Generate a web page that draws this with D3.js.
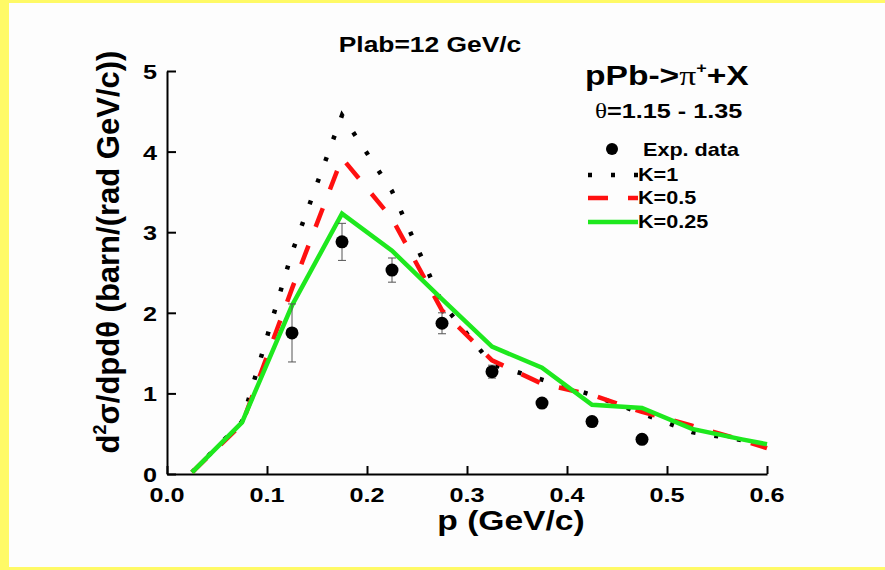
<!DOCTYPE html>
<html>
<head>
<meta charset="utf-8">
<script src="https://cdn.jsdelivr.net/npm/d3@7"></script>
<style>
  html, body { margin: 0; padding: 0; background: #fff; }
  svg { display: block; }
  text { font-family: "Liberation Sans", Arial, sans-serif; font-weight: bold; fill: #000; }
</style>
</head>
<body>
<svg id="chart"></svg>
<script>
// momentum bins of the model curves
const pModel = [0.025, 0.075, 0.125, 0.175, 0.225, 0.275, 0.325, 0.375, 0.425, 0.475, 0.525, 0.575, 0.6];
const k1   = [0.02, 0.65, 2.75, 4.45, 3.51, 2.12, 1.36, 1.17, 0.98, 0.75, 0.52, 0.42, 0.35];
const k05  = [0.02, 0.62, 2.30, 3.92, 3.17, 2.03, 1.41, 1.12, 0.98, 0.77, 0.60, 0.42, 0.32];
const k025 = [0.02, 0.64, 2.09, 3.23, 2.77, 2.17, 1.58, 1.32, 0.86, 0.82, 0.56, 0.43, 0.37];

// experimental points
const pExp   = [0.125, 0.175, 0.225, 0.275, 0.325, 0.375, 0.425, 0.475];
const expVal = [1.75, 2.88, 2.53, 1.87, 1.27, 0.88, 0.65, 0.43];
const expErr = [0.36, 0.23, 0.15, 0.13, 0.08, 0.05, 0.04, 0.03];

const xTicks = [0, 0.1, 0.2, 0.3, 0.4, 0.5, 0.6];
const yTicks = [0, 1, 2, 3, 4, 5];

const W = 885, H = 570;
const SX = 1.2; // the original picture is stretched sideways

const svg = d3.select('#chart').attr('width', W).attr('height', H);

// yellow frame
svg.append('rect').attr('width', W).attr('height', H).attr('fill', '#fffa66');
svg.append('rect').attr('x', 9).attr('y', 3).attr('width', W - 9).attr('height', H - 6).attr('fill', '#fdfdfd');

const x = d3.scaleLinear().domain([0, 0.6]).range([167, 767]);
const y = d3.scaleLinear().domain([0, 5]).range([474, 71]);

// text helper with horizontal stretch
let txt = function (g, px, py, anchor, size, s) {
    return g.append('text')
        .attr('transform', 'translate(' + px + ',' + py + ') scale(' + SX + ',1)')
        .attr('text-anchor', anchor)
        .style('font-size', size + 'px')
        .text(s);
}

// axes
const xAxis = svg.append('g')
    .attr('transform', 'translate(0,' + y(0) + ')')
    .call(d3.axisBottom(x).tickValues(xTicks).tickSizeInner(-8).tickSizeOuter(0).tickFormat(''));
const yAxis = svg.append('g')
    .attr('transform', 'translate(' + x(0) + ',0)')
    .call(d3.axisLeft(y).tickValues(yTicks).tickSizeInner(-9).tickSizeOuter(0).tickFormat(''));
[xAxis, yAxis].forEach(a => {
    a.selectAll('path, line').attr('stroke', '#000').attr('stroke-width', 2);
});

xTicks.forEach(t => txt(svg, x(t), 502, 'middle', 21, d3.format('.1f')(t)));
yTicks.forEach(t => txt(svg, 157, y(t) + 8, 'end', 21, t));

// model curves
const line = d3.line().x((d, i) => x(pModel[i])).y(d => y(d));
const series = [
    { v: k1,   color: '#000',    dash: '4,19', w: 4.5 },
    { v: k05,  color: '#ff1010', dash: '20,20', w: 4.5 },
    { v: k025, color: '#1ee81e', dash: null,   w: 4.5 }
];
series.forEach(s => {
    svg.append('path')
        .attr('d', line(s.v))
        .attr('fill', 'none')
        .attr('stroke', s.color)
        .attr('stroke-width', s.w)
        .attr('stroke-dasharray', s.dash);
});

// experimental data with error bars
const pts = svg.append('g');
pExp.forEach((p, i) => {
    const cx = x(p), lo = y(expVal[i] - expErr[i]), hi = y(expVal[i] + expErr[i]);
    pts.append('line').attr('x1', cx).attr('x2', cx).attr('y1', lo).attr('y2', hi)
        .attr('stroke', '#555').attr('stroke-width', 1);
    [lo, hi].forEach(yy => {
        pts.append('line').attr('x1', cx - 4).attr('x2', cx + 4).attr('y1', yy).attr('y2', yy)
            .attr('stroke', '#555').attr('stroke-width', 1);
    });
    pts.append('circle').attr('cx', cx).attr('cy', y(expVal[i])).attr('r', 6.5).attr('fill', '#000');
});

// titles
txt(svg, 430, 52, 'middle', 22, 'Plab=12 GeV/c');
txt(svg, 511, 530, 'middle', 28, 'p (GeV/c)');

const yl = svg.append('text')
    .attr('transform', 'translate(119,252) rotate(-90)')
    .attr('text-anchor', 'middle')
    .style('font-size', '31px');
yl.append('tspan').text('d');
yl.append('tspan').attr('dy', -13).style('font-size', '18px').text('2');
yl.append('tspan').attr('dy', 13).text('σ/dpdθ (barn/(rad GeV/c))');

const t1 = txt(svg, 585, 85, 'start', 28, '');
t1.append('tspan').text('pPb->');
t1.append('tspan').style('font-family', '"Liberation Serif", serif').style('font-weight', 'normal').text('π');
t1.append('tspan').attr('dy', -12).style('font-size', '15px').text('+');
t1.append('tspan').attr('dy', 12).text('+X');

const t2 = txt(svg, 595, 118, 'start', 21, '');
t2.append('tspan').style('font-family', '"Liberation Serif", serif').style('font-weight', 'normal').text('θ');
t2.append('tspan').text('=1.15 - 1.35');

// legend
svg.append('circle').attr('cx', 612).attr('cy', 149).attr('r', 6).attr('fill', '#000');
txt(svg, 643, 156, 'start', 18, 'Exp. data');
const legY = [175, 198, 222];
const legLab = ['K=1', 'K=0.5', 'K=0.25'];
series.forEach((s, i) => {
    svg.append('line').attr('x1', 588).attr('x2', 638).attr('y1', legY[i]).attr('y2', legY[i])
        .attr('stroke', s.color).attr('stroke-width', s.w).attr('stroke-dasharray', s.dash);
    txt(svg, 638, legY[i] + 6, 'start', 18, legLab[i]);
});
</script>
</body>
</html>
